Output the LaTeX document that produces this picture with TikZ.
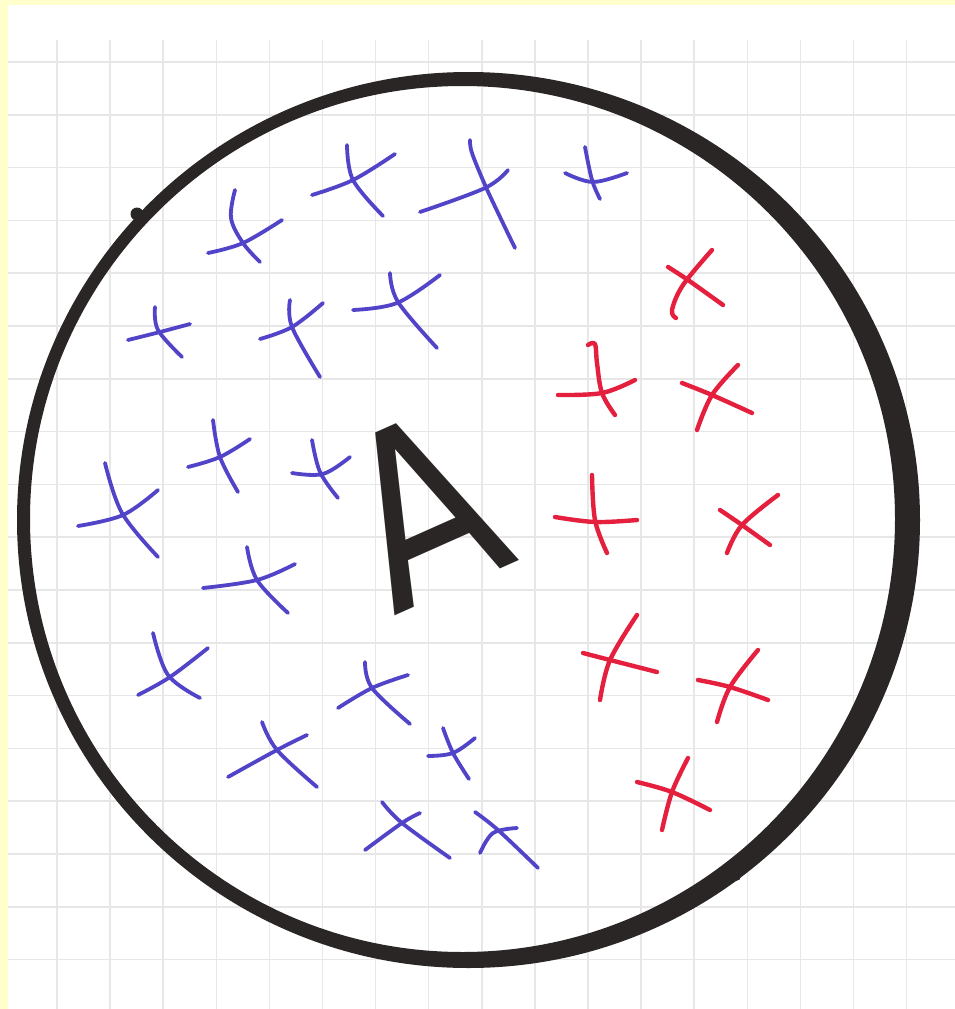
\documentclass[tikz,border=0pt]{standalone}
\usepackage{fontspec}
\newfontfamily\handfont{DejaVu Sans}
\definecolor{paperyellow}{RGB}{255,255,204}
\definecolor{gridgray}{RGB}{231,231,231}
\definecolor{inkblack}{RGB}{42,38,38}
\definecolor{inkblue}{RGB}{82,68,200}
\definecolor{inkred}{RGB}{228,32,62}
\tikzset{
  gridline/.style={draw=gridgray, line width=1.5pt},
  bluepen/.style={draw=inkblue, line width=3.8pt, line cap=round, line join=round},
  redpen/.style={draw=inkred, line width=4.4pt, line cap=round, line join=round},
  ring/.style={fill=inkblack, even odd rule},
  letterstyle/.style={text=inkblack, inner sep=0pt, font=\handfont\fontsize{240}{240}\selectfont},
}
\newcommand{\penstroke}[2]{\draw[#1] plot[smooth, tension=0.6] coordinates {#2};}
\begin{document}
\begin{tikzpicture}[x=1pt,y=-1pt]
\useasboundingbox (0,0) rectangle (955,1009);
\fill[white] (0,0) rectangle (955,1009);
\fill[paperyellow] (0,0) rectangle (955,5);
\fill[paperyellow] (0,0) rectangle (8,1009);
% graph paper
\foreach \k in {0,...,16} \draw[gridline] ({57+53.1*\k},40) -- ({57+53.1*\k},1009);
\foreach \k in {0,...,17} \draw[gridline] (8,{62+52.8*\k}) -- (955,{62+52.8*\k});
% ring
\fill[ring] (468.5,520) ellipse [x radius=451.5, y radius=448]
            (462.5,519) ellipse [x radius=432.5, y radius=433];
\fill[inkblack] (137,214) circle [radius=6.5];
\fill[inkblack] (736,876) circle [radius=5];
% letter
\node[letterstyle, rotate=24, xscale=0.85] (letterA) at (422,508) {A};
% blue crosses
\penstroke{bluepen}{(208,253) (243,243) (282,220)}
\penstroke{bluepen}{(235,190) (231,218) (243,243) (260,262)}
\penstroke{bluepen}{(312,195) (353,180) (395,154)}
\penstroke{bluepen}{(347,145) (353,180) (383,216)}
\penstroke{bluepen}{(420,212) (485,188) (508,170)}
\penstroke{bluepen}{(470,140) (472,153) (485,185) (500,217) (515,248)}
\penstroke{bluepen}{(565,173) (593,182) (627,173)}
\penstroke{bluepen}{(585,147) (592,180) (600,199)}
\penstroke{bluepen}{(128,340) (160,332) (190,324)}
\penstroke{bluepen}{(155,307) (158,330) (182,357)}
\penstroke{bluepen}{(260,339) (292,327) (323,303)}
\penstroke{bluepen}{(290,300) (292,327) (320,377)}
\penstroke{bluepen}{(353,310) (397,303) (440,275)}
\penstroke{bluepen}{(390,273) (398,302) (437,348)}
\penstroke{bluepen}{(188,467) (220,457) (250,439)}
\penstroke{bluepen}{(213,420) (220,457) (238,492)}
\penstroke{bluepen}{(292,473) (323,474) (350,457)}
\penstroke{bluepen}{(312,440) (320,472) (338,498)}
\penstroke{bluepen}{(78,526) (123,515) (158,490)}
\penstroke{bluepen}{(105,463) (122,513) (158,557)}
\penstroke{bluepen}{(203,588) (257,580) (295,564)}
\penstroke{bluepen}{(247,547) (257,580) (288,613)}
\penstroke{bluepen}{(138,695) (170,677) (208,648)}
\penstroke{bluepen}{(153,633) (168,675) (200,698)}
\penstroke{bluepen}{(338,708) (372,688) (408,675)}
\penstroke{bluepen}{(365,662) (372,688) (410,724)}
\penstroke{bluepen}{(228,777) (277,750) (307,735)}
\penstroke{bluepen}{(262,722) (277,750) (317,787)}
\penstroke{bluepen}{(428,756) (453,753) (475,738)}
\penstroke{bluepen}{(443,728) (453,753) (469,779)}
\penstroke{bluepen}{(365,850) (402,823) (420,813)}
\penstroke{bluepen}{(382,802) (402,823) (450,858)}
\penstroke{bluepen}{(480,853) (493,833) (517,828)}
\penstroke{bluepen}{(475,812) (498,830) (538,868)}
% red crosses
\penstroke{redpen}{(668,267) (688,280) (723,305)}
\penstroke{redpen}{(712,250) (683,285) (672,310) (676,318)}
\penstroke{redpen}{(558,395) (602,393) (635,380)}
\penstroke{redpen}{(588,345) (595,344) (597,363) (602,393) (615,415)}
\penstroke{redpen}{(682,383) (712,395) (752,413)}
\penstroke{redpen}{(738,365) (712,395) (697,430)}
\penstroke{redpen}{(555,517) (595,522) (637,520)}
\penstroke{redpen}{(592,475) (595,520) (607,553)}
\penstroke{redpen}{(720,510) (742,525) (770,545)}
\penstroke{redpen}{(778,495) (742,525) (727,553)}
\penstroke{redpen}{(583,653) (610,660) (657,672)}
\penstroke{redpen}{(637,615) (610,660) (600,700)}
\penstroke{redpen}{(698,680) (730,687) (768,700)}
\penstroke{redpen}{(758,650) (730,687) (717,722)}
\penstroke{redpen}{(637,782) (672,792) (710,810)}
\penstroke{redpen}{(688,758) (672,792) (662,830)}
\end{tikzpicture}
\end{document}
